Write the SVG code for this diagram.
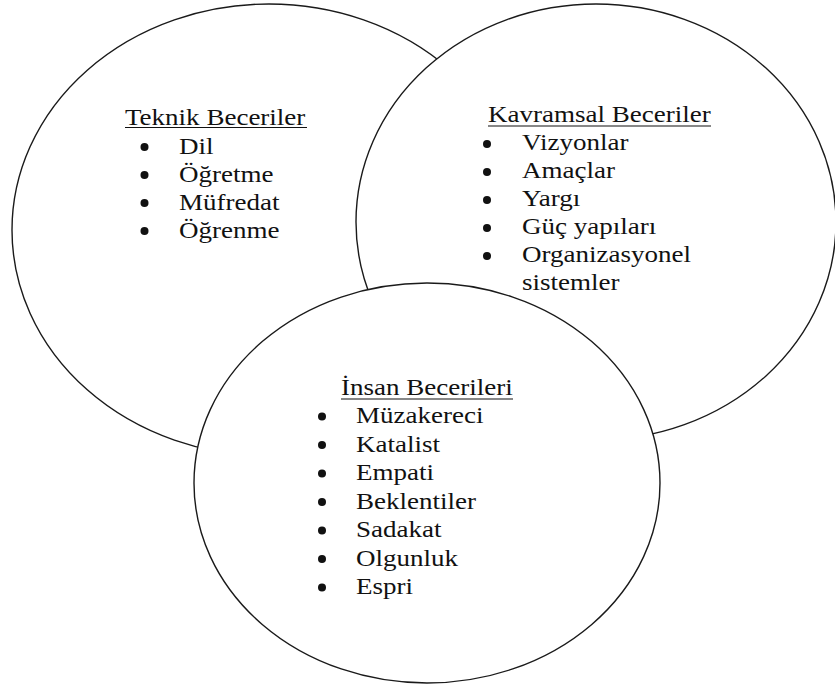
<svg xmlns="http://www.w3.org/2000/svg" width="835" height="692" viewBox="0 0 835 692">
<style>
.shape{fill:#fff;stroke:#1a1a1a;stroke-width:1.4}
.t{font-family:'Liberation Serif','Times New Roman','DejaVu Serif',serif;font-size:23.5px;fill:#111}
.u{stroke:#111;stroke-width:1.2}
.b{fill:#111}
</style>
<rect width="835" height="692" fill="#fff"/>
<g id="connectors"></g>
<g id="teknik" font-family="Liberation Serif, Times New Roman, serif">
<ellipse class="shape" cx="269" cy="230" rx="257" ry="226"/>
<text class="t" transform="translate(125,124.5) scale(1.15,1)">Teknik Beceriler</text>
<line class="u" x1="125" y1="127.5" x2="307" y2="127.5"/>
<circle class="b" cx="144.5" cy="147" r="4"/>
<text class="t" transform="translate(179,154) scale(1.15,1)">Dil</text>
<circle class="b" cx="144.5" cy="175" r="4"/>
<text class="t" transform="translate(179,182) scale(1.15,1)">Öğretme</text>
<circle class="b" cx="144.5" cy="203" r="4"/>
<text class="t" transform="translate(179,210) scale(1.15,1)">Müfredat</text>
<circle class="b" cx="144.5" cy="231" r="4"/>
<text class="t" transform="translate(179,238) scale(1.15,1)">Öğrenme</text>
</g>
<g id="kavramsal" font-family="Liberation Serif, Times New Roman, serif">
<ellipse class="shape" cx="596" cy="222" rx="240" ry="218"/>
<text class="t" transform="translate(488,122) scale(1.15,1)">Kavramsal Beceriler</text>
<line class="u" x1="488" y1="126" x2="711" y2="126"/>
<circle class="b" cx="487" cy="144" r="4"/>
<text class="t" transform="translate(522,150) scale(1.15,1)">Vizyonlar</text>
<circle class="b" cx="487" cy="172" r="4"/>
<text class="t" transform="translate(522,178) scale(1.15,1)">Amaçlar</text>
<circle class="b" cx="487" cy="200" r="4"/>
<text class="t" transform="translate(522,206) scale(1.15,1)">Yargı</text>
<circle class="b" cx="487" cy="228" r="4"/>
<text class="t" transform="translate(522,234) scale(1.15,1)">Güç yapıları</text>
<circle class="b" cx="487" cy="256" r="4"/>
<text class="t" transform="translate(522,262) scale(1.15,1)">Organizasyonel</text>
<text class="t" transform="translate(522,289.5) scale(1.15,1)">sistemler</text>
</g>
<g id="insan" font-family="Liberation Serif, Times New Roman, serif">
<ellipse class="shape" cx="427" cy="483" rx="233" ry="200"/>
<text class="t" transform="translate(341,395) scale(1.15,1)">İnsan Becerileri</text>
<line class="u" x1="341" y1="399" x2="513" y2="399"/>
<circle class="b" cx="322" cy="416.5" r="4"/>
<text class="t" transform="translate(356,423) scale(1.15,1)">Müzakereci</text>
<circle class="b" cx="322" cy="445" r="4"/>
<text class="t" transform="translate(356,451.5) scale(1.15,1)">Katalist</text>
<circle class="b" cx="322" cy="473.5" r="4"/>
<text class="t" transform="translate(356,480) scale(1.15,1)">Empati</text>
<circle class="b" cx="322" cy="502" r="4"/>
<text class="t" transform="translate(356,508.5) scale(1.15,1)">Beklentiler</text>
<circle class="b" cx="322" cy="530.5" r="4"/>
<text class="t" transform="translate(356,537) scale(1.15,1)">Sadakat</text>
<circle class="b" cx="322" cy="559" r="4"/>
<text class="t" transform="translate(356,565.5) scale(1.15,1)">Olgunluk</text>
<circle class="b" cx="322" cy="587.5" r="4"/>
<text class="t" transform="translate(356,594) scale(1.15,1)">Espri</text>
</g>
</svg>
